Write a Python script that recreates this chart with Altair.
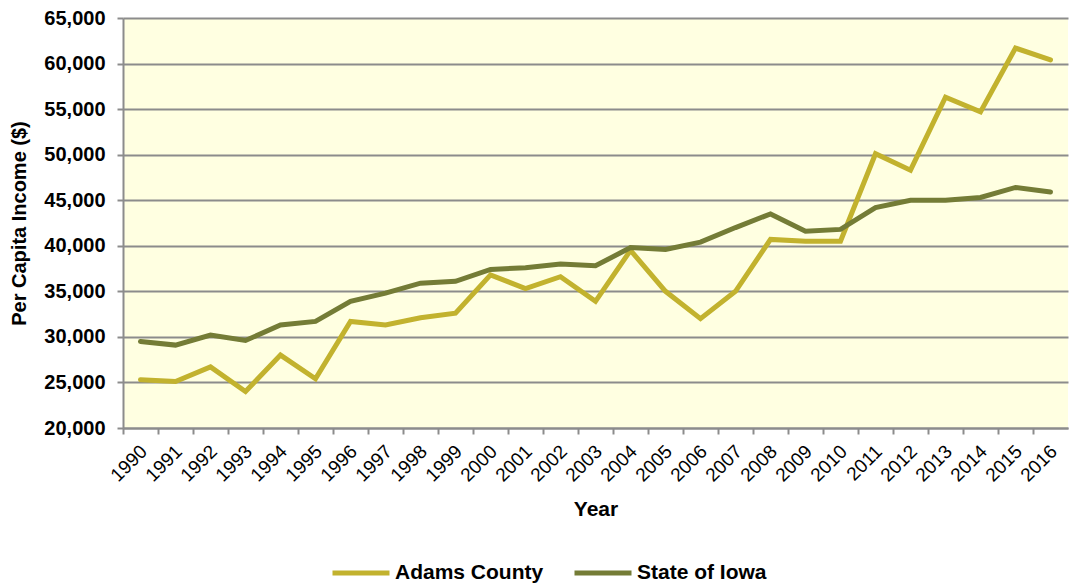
import altair as alt
import pandas as pd

years = [str(y) for y in range(1990, 2017)]
adams = [25300, 25100, 26700, 24000, 28000, 25400, 31700, 31300, 32100, 32600,
         36800, 35300, 36600, 33900, 39500, 35000, 32000, 35000, 40700, 40500,
         40500, 50100, 48300, 56300, 54700, 61700, 60400]
iowa = [29500, 29100, 30200, 29600, 31300, 31700, 33900, 34800, 35900, 36100,
        37400, 37600, 38000, 37800, 39800, 39600, 40400, 42000, 43500, 41600,
        41800, 44200, 45000, 45000, 45300, 46400, 45900]
series = ["Adams County", "State of Iowa"]
colors = ["#C2B22E", "#747C36"]
y_ticks = list(range(20000, 65001, 5000))

rows = []
for name, vals in zip(series, [adams, iowa]):
    for yr, v in zip(years, vals):
        rows.append({"Year": yr, "Value": v, "Series": name})
df = pd.DataFrame(rows)

W = 945
H = 410
band = W / len(years)
FONT = "Liberation Sans"

chart = alt.Chart(df).mark_line(strokeWidth=5, strokeCap="round").encode(
    x=alt.X("Year:O", title="Year",
            scale=alt.Scale(type="point", padding=0.5),
            axis=alt.Axis(labelAngle=-45, labelAlign="right", labelBaseline="middle",
                          labelFontSize=19, labelFont=FONT, labelColor="black",
                          labelPadding=14, tickOffset=-band / 2, labelOffset=band / 2 + 3,
                          tickSize=6, tickColor="#8C8C8C", tickWidth=2,
                          domainColor="#8C8C8C", domainWidth=2, grid=False,
                          titleFontSize=21, titleFont=FONT, titleFontWeight="bold",
                          titleColor="black", titlePadding=14, labelOverlap=False)),
    y=alt.Y("Value:Q", title="Per Capita Income ($)",
            scale=alt.Scale(domain=[20000, 65000], nice=False),
            axis=alt.Axis(values=y_ticks, format=",d", labelFontSize=20,
                          labelFont=FONT, labelFontWeight="bold",
                          labelColor="black", labelPadding=12,
                          tickSize=6, tickColor="#8C8C8C", tickWidth=2,
                          domainColor="#8C8C8C", domainWidth=2,
                          grid=True, gridColor="#8C8C8C", gridWidth=2,
                          titleFontSize=20, titleFont=FONT, titleFontWeight="bold",
                          titleColor="black", titlePadding=14)),
    color=alt.Color("Series:N", scale=alt.Scale(domain=series, range=colors),
                    legend=alt.Legend(title=None, orient="none", direction="horizontal",
                                      legendX=207, legendY=524, padding=0,
                                      symbolType="stroke", symbolSize=3249,
                                      symbolStrokeWidth=5, labelFontSize=21,
                                      labelFont=FONT, labelFontWeight="bold",
                                      labelColor="black", labelOffset=3,
                                      columnPadding=20)),
).properties(
    width=W, height=H,
    autosize=alt.AutoSizeParams(type="none"),
    padding={"left": 115, "top": 10, "right": 10, "bottom": 156},
).configure_view(fill="#FFFFE1", stroke=None)

chart.save("out.html", embed_options={"renderer": "svg", "actions": False})
